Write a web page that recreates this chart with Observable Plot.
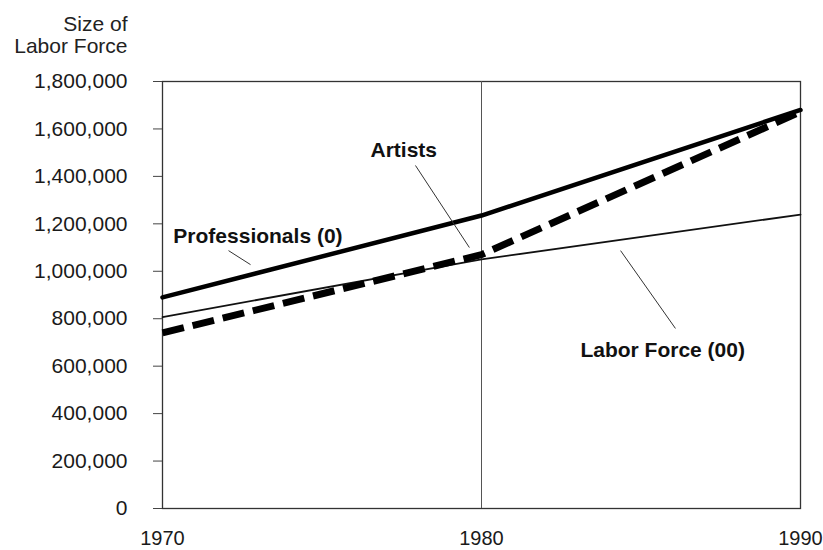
<!DOCTYPE html>
<html>
<head>
<meta charset="utf-8">
<script src="https://cdn.jsdelivr.net/npm/d3@7"></script>
<script src="https://cdn.jsdelivr.net/npm/@observablehq/plot@0.6"></script>
<style>
  html, body { margin: 0; padding: 0; background: #fff; }
  #chart svg { font-family: "Liberation Sans", Arial, Helvetica, sans-serif; }
</style>
</head>
<body>
<div id="chart"></div>
<script>
// ---- data ----
const years = [1970, 1980, 1990];
const professionals = [890000, 1235000, 1680000];
const artists = [740000, 1070000, 1672000];
const laborForce = [807000, 1050000, 1239000];
const yTicks = [0, 200000, 400000, 600000, 800000, 1000000, 1200000, 1400000, 1600000, 1800000];
const xTicks = [1970, 1980, 1990];
const yTitle = "Size of\nLabor Force";

// annotation labels (data coordinates) and leader lines
const labelNames = ["Professionals (0)", "Artists", "Labor Force (00)"];
const labelX = [1970.34, 1976.52, 1983.10];
const labelY = [1148000, 1512000, 668000];
const leaderX1 = [1972.07, 1977.93, 1984.36];
const leaderY1 = [1087000, 1446000, 1087000];
const leaderX2 = [1972.76, 1979.62, 1986.08];
const leaderY2 = [1028000, 1100000, 759000];

const toRows = vals => years.map((y, i) => ({year: y, value: vals[i]}));
const labels = labelNames.map((t, i) => ({text: t, x: labelX[i], y: labelY[i]}));
const leaders = labelNames.map((t, i) => ({x1: leaderX1[i], y1: leaderY1[i], x2: leaderX2[i], y2: leaderY2[i]}));

const chart = Plot.plot({
  width: 823,
  height: 550,
  marginLeft: 162,
  marginRight: 23,
  marginTop: 81,
  marginBottom: 42,
  style: {color: "#1a1a1a", background: "#fff"},
  x: {domain: [1970, 1990]},
  y: {domain: [0, 1800000]},
  marks: [
    Plot.frame({stroke: "#333", strokeWidth: 1.3}),
    Plot.ruleX([1980], {stroke: "#555", strokeWidth: 1}),
    Plot.axisY({ticks: yTicks, tickFormat: d3.format(","), tickSize: 9, tickPadding: 26, fontSize: 21, label: null, stroke: "#444"}),
    Plot.axisX({ticks: xTicks, tickFormat: d => String(d), tickSize: 0, tickPadding: 22, fontSize: 20, label: null}),
    Plot.line(toRows(laborForce), {x: "year", y: "value", stroke: "#111", strokeWidth: 1.8}),
    Plot.line(toRows(artists), {x: "year", y: "value", stroke: "#000", strokeWidth: 7, strokeDasharray: "22,9", strokeLinecap: "butt", strokeLinejoin: "miter"}),
    Plot.line(toRows(professionals), {x: "year", y: "value", stroke: "#000", strokeWidth: 4.5}),
    Plot.link(leaders, {x1: "x1", y1: "y1", x2: "x2", y2: "y2", stroke: "#333", strokeWidth: 1}),
    Plot.text(labels, {x: "x", y: "y", text: "text", textAnchor: "start", fontSize: 21, fontWeight: "bold", fill: "#111"}),
    Plot.text([yTitle], {frameAnchor: "top-left", dx: -35, dy: -66, textAnchor: "end", lineAnchor: "top", fontSize: 21, lineHeight: 1.04, fill: "#222"})
  ]
});
document.getElementById("chart").appendChild(chart);
</script>
</body>
</html>
